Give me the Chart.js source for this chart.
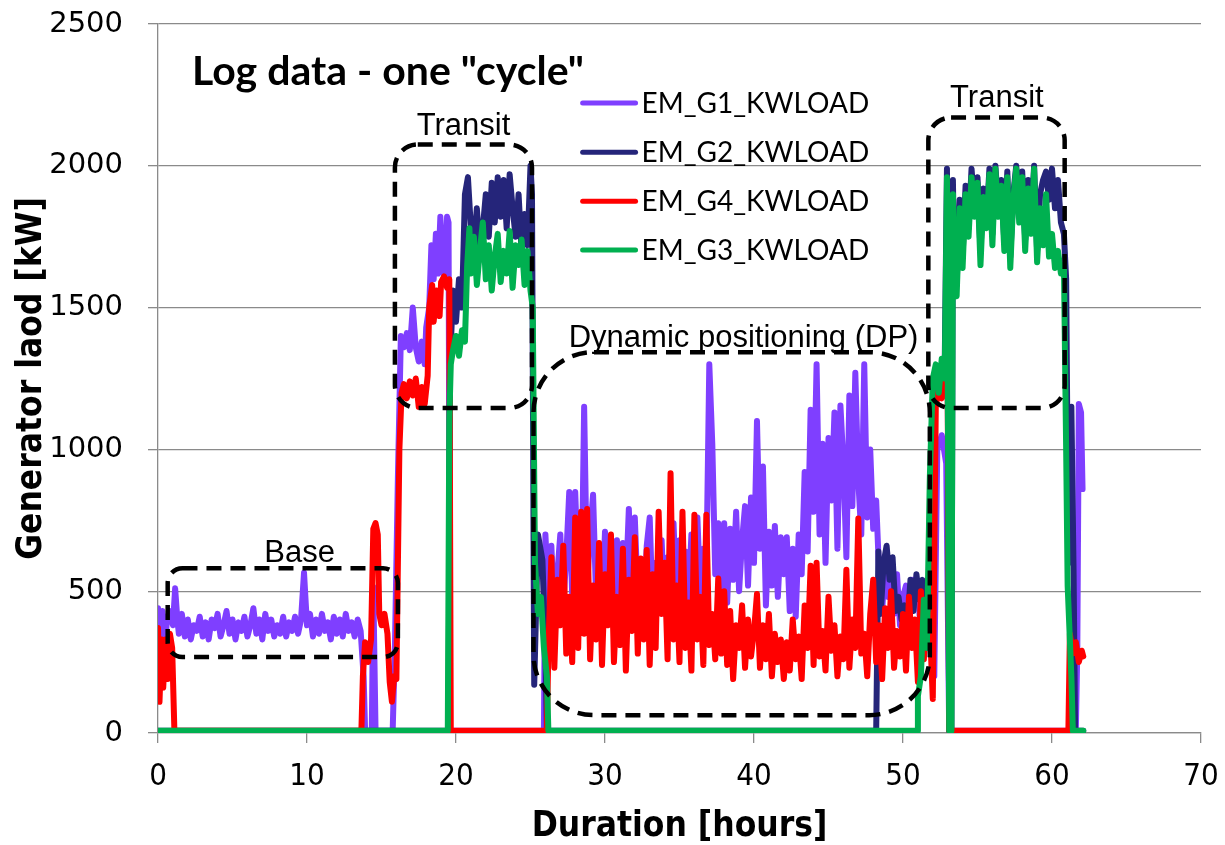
<!DOCTYPE html>
<html>
<head>
<meta charset="utf-8">
<script src="https://cdn.jsdelivr.net/npm/chart.js@4.4.0/dist/chart.umd.min.js"></script>
<style>
html, body { margin: 0; padding: 0; background: #fff; }
</style>
</head>
<body>
<canvas id="grafica" width="1225" height="845"></canvas>
<script>
const paso = 0.2; // horas entre muestras en los tramos con ruido

// EM_G1_KWLOAD
const g1Inicio = [[0,440],[0.15,310],[0.3,430],[0.45,290],[0.6,400],[0.8,430],[1.0,380],[1.15,510],[1.3,400]];
const g1BaseDesde = 1.4;
const g1Base = [
    350,420,340,400,330,380,360,410,340,390,
    330,400,370,420,340,380,430,350,400,330,
    390,360,410,340,380,440,350,400,330,420,
    360,400,340,380,350,410,340,390,360,410,
    350,400,565,380,420,340,400,350,420,360,
    390,330,410,350,400,340,420,360,390,340,
    400,360
];
const g1Subida = [[13.8,200],[13.9,8],[14.35,8],[14.45,515],[14.6,8],[15.75,8],[15.9,300],[16.1,900],
    [16.3,1400],[16.5,1360],[16.7,1410],[16.9,1350],[17.1,1500],[17.3,1360],[17.5,1310],[17.7,1380],
    [17.9,1300],[18.0,1430],[18.2,1500],[18.35,1720],[18.5,1600],[18.65,1760],[18.8,1620],[18.95,1820],
    [19.1,1650],[19.25,1600],[19.4,1820],[19.5,1800],[19.6,8],[25.9,8]];
const g1DpDesde = 26.0;
const g1Dp = [
    700,480,660,420,560,700,450,620,850,480,
    850,560,400,1150,520,700,840,480,600,430,
    710,420,580,470,680,400,670,520,790,450,
    760,480,560,420,660,760,430,600,520,680,
    420,620,560,740,450,680,520,640,470,700,
    540,760,480,650,560,1300,1020,560,740,500,
    740,460,720,540,780,500,680,800,520,830,
    600,1100,650,940,450,710,520,730,480,690,
    560,690,430,650,410,700,560,920,640,1140,
    780,1300,700,1020,600,1040,820,1130,650,1155,
    950,620,1190,800,1270,890,700,1300,760,1000,
    720,820,560,430,600,480,540,420,560,380,
    480,520,400,540,460,500,350,480
];
const g1Final = [[51.6,400],[51.8,350],[52.1,200],[52.3,1000],[52.6,1050],[52.9,950],[53.1,8],[61.6,8],
    [61.7,300],[61.8,1160],[61.95,1130],[62.05,860]];

// EM_G2_KWLOAD
const g2Inicio = [[0,8],[19.5,8],[19.6,1300],[19.8,1560],[20.0,1450],[20.2,1600],[20.4,1500],[20.6,1900],[20.8,1960],[21.0,1780]];
const g2Transito1Desde = 21.2;
const g2Transito1 = [1720,1850,1700,1780,1900,1750,1940,1800,1960,1820,1950,1780,1970,1850,1750,1900,1700,1830,1720,2000];
const g2Medio = [[25.1,1900],[25.25,170],[25.5,700],[25.8,610],[26.0,290],[26.1,8],[48.2,8],[48.35,640],[48.5,420],
    [48.7,600],[48.9,660],[49.1,540],[49.3,620],[49.5,430],[49.7,480],[49.9,400],[50.1,450],[50.3,380],[50.5,540],
    [50.7,430],[50.9,560],[51.1,470],[51.3,540],[51.5,520],[51.7,400],[51.9,700],[52.1,1150],[52.4,1250],[52.8,1300],
    [52.95,1990],[53.1,8],[53.25,8],[53.35,1950],[53.45,1600]];
const g2Transito2Desde = 53.6;
const g2Transito2 = [1580,1880,1680,1930,1780,1990,1850,1960,1700,1920,1800,1990,1760,2000,1850,1950,1730,1980,1680,
    1900,2000,1830,1980,1740,1950,1800,2000,1700,1900,1950,1980,1880,1990,1850,1950,1800,1760];
const g2Final = [[60.95,1600],[61.1,600],[61.3,1150],[61.45,560],[61.55,8],[62.1,8]];

// EM_G4_KWLOAD
const g4Inicio = [[0,370],[0.1,110],[0.25,330],[0.35,160],[0.5,330],[0.65,190],[0.8,350],[0.95,300],[1.1,8],
    [13.65,8],[13.75,200],[13.9,320],[14.1,250],[14.3,330],[14.45,720],[14.6,740],[14.75,700],[14.85,420],
    [15.0,380],[15.2,420],[15.4,350],[15.55,180],[15.7,110],[15.85,200],[16.0,190],[16.2,1000],[16.35,1200],
    [16.5,1230],[16.7,1180],[16.9,1240],[17.1,1190],[17.3,1250],[17.5,1150],[17.7,1220],[17.9,1160],[18.1,1260],
    [18.2,1500],[18.4,1580],[18.5,1450],[18.7,1560],[18.9,1470],[19.0,1590],[19.2,1610],[19.4,1570],[19.55,1600],
    [19.65,8],[26.1,8]];
const g4DpDesde = 26.2;
const g4Dp = [
    300,620,230,540,380,660,280,480,250,760,
    300,780,350,790,260,520,330,670,240,560,
    380,700,250,480,310,650,220,540,360,690,
    280,615,330,645,240,560,300,780,420,600,
    260,916,330,520,250,780,300,460,220,770,
    330,480,240,770,310,420,260,545,280,500,
    240,430,190,380,300,450,230,400,270,360,
    490,230,380,260,420,200,350,250,330,190,
    320,220,400,260,340,190,450,300,590,240,
    600,270,360,220,480,290,380,200,340,260,
    576,230,400,300,756,280,350,200,420,540,
    250,380,190,440,300,500,230,360,270,420,
    220,480,300,400,180,500,260,440
];
const g4Final = [[51.8,380],[52.0,120],[52.2,1150],[52.4,1220],[52.6,1180],[52.8,1250],[53.0,1230],[53.1,8],
    [61.1,8],[61.2,350],[61.4,280],[61.6,320],[61.8,250],[62.0,290],[62.1,270]];

// EM_G3_KWLOAD
const g3Inicio = [[0,8],[19.45,8],[19.55,1100],[19.65,1300],[19.8,1350],[20.0,1400],[20.2,1330],[20.4,1420],
    [20.6,1380],[20.75,1650],[20.9,1780]];
const g3Transito1Desde = 21.0;
const g3Transito1 = [1620,1750,1580,1700,1800,1600,1720,1560,1680,1760,1590,1700,1620,1770,1570,1720,1650,1740,1580,1700,1560];
const g3Medio = [[25.15,1500],[25.3,600],[25.5,420],[25.7,480],[25.9,300],[26.1,200],[26.2,8],[50.95,8],[51.0,130],
    [51.2,200],[51.4,470],[51.6,300],[51.8,900],[52.0,1250],[52.2,1300],[52.4,1200],[52.6,1320],[52.8,1250],
    [52.95,1960],[53.1,8],[53.25,8],[53.35,1900],[53.45,1600]];
const g3Transito2Desde = 53.6;
const g3Transito2 = [1540,1850,1640,1900,1750,1960,1820,1940,1650,1890,1780,1970,1720,1990,1820,1930,1700,1960,1640,
    1880,1990,1800,1960,1700,1920,1760,1990,1660,1850,1720,1900,1680,1760,1640,1700,1620,1650];
const g3Final = [[60.95,1000],[61.05,520],[61.3,200],[61.4,8],[62.1,8]];

const etiquetas = ['EM_G1_KWLOAD', 'EM_G2_KWLOAD', 'EM_G4_KWLOAD', 'EM_G3_KWLOAD'];
const colores = ['#7f3fff', '#25257a', '#ff0000', '#00b050'];
const ticksX = [0, 10, 20, 30, 40, 50, 60, 70];
const ticksY = [0, 500, 1000, 1500, 2000, 2500];

// recuadros discontinuos: horas y kW
const cajas = [
    { desde: 0.65, hasta: 16.1, min: 268, max: 581, texto: 'Base', tx: 9.5, ty: 634 },
    { desde: 15.9, hasta: 25.1, min: 1146, max: 2075, texto: 'Transit', tx: 20.5, ty: 2140 },
    { desde: 25.2, hasta: 51.8, min: 63, max: 1343, texto: 'Dynamic positioning (DP)', tx: 39.3, ty: 1392 },
    { desde: 51.7, hasta: 60.85, min: 1146, max: 2170, texto: 'Transit', tx: 56.3, ty: 2238 }
];

function tramo(desde, valores) {
    return valores.map((v, i) => ({ x: Math.round((desde + i * paso) * 100) / 100, y: v }));
}

function puntos(pares) {
    return pares.map(p => ({ x: p[0], y: p[1] }));
}

const series = [
    [...puntos(g1Inicio), ...tramo(g1BaseDesde, g1Base), ...puntos(g1Subida), ...tramo(g1DpDesde, g1Dp), ...puntos(g1Final)],
    [...puntos(g2Inicio), ...tramo(g2Transito1Desde, g2Transito1), ...puntos(g2Medio), ...tramo(g2Transito2Desde, g2Transito2), ...puntos(g2Final)],
    [...puntos(g4Inicio), ...tramo(g4DpDesde, g4Dp), ...puntos(g4Final)],
    [...puntos(g3Inicio), ...tramo(g3Transito1Desde, g3Transito1), ...puntos(g3Medio), ...tramo(g3Transito2Desde, g3Transito2), ...puntos(g3Final)]
];

const anotaciones = {
    id: 'anotaciones',
    afterDatasetsDraw(chart) {
        const { ctx, scales: { x, y } } = chart;
        ctx.save();
        ctx.strokeStyle = '#000';
        ctx.lineWidth = 4.5;
        ctx.setLineDash([15, 9]);
        cajas.forEach(c => {
            const izq = x.getPixelForValue(c.desde);
            const der = x.getPixelForValue(c.hasta);
            const arr = y.getPixelForValue(c.max);
            const aba = y.getPixelForValue(c.min);
            ctx.beginPath();
            ctx.roundRect(izq, arr, der - izq, aba - arr, Math.min(der - izq, aba - arr) / 6);
            ctx.stroke();
        });
        ctx.setLineDash([]);

        ctx.fillStyle = '#000';
        ctx.textAlign = 'center';
        ctx.textBaseline = 'middle';
        ctx.font = '31px "Liberation Sans", Arial, sans-serif';
        cajas.forEach(c => {
            ctx.fillText(c.texto, x.getPixelForValue(c.tx), y.getPixelForValue(c.ty));
        });

        // título dentro del gráfico
        ctx.textAlign = 'left';
        ctx.font = 'bold 41px Lato, sans-serif';
        ctx.fillText('Log data - one "cycle"', x.getPixelForValue(2.28), y.getPixelForValue(2330));

        // leyenda
        ctx.font = '28px Lato, sans-serif';
        const filas = [2221, 2048, 1875, 1703];
        chart.data.datasets.forEach((d, i) => {
            const fy = y.getPixelForValue(filas[i]);
            ctx.strokeStyle = d.borderColor;
            ctx.lineWidth = 5;
            ctx.lineCap = 'round';
            ctx.beginPath();
            ctx.moveTo(x.getPixelForValue(28.5), fy);
            ctx.lineTo(x.getPixelForValue(32.05), fy);
            ctx.stroke();
            ctx.fillText(d.label, x.getPixelForValue(32.45), fy + 1);
        });
        ctx.restore();
    }
};

const gris = '#8a8a8a';
const fuenteEstrecha = '"Liberation Sans Narrow", "DejaVu Sans Condensed", sans-serif';

new Chart(document.getElementById('grafica').getContext('2d'), {
    type: 'line',
    data: {
        datasets: series.map((s, i) => ({
            label: etiquetas[i],
            data: s,
            borderColor: colores[i],
            backgroundColor: colores[i],
            order: 3 - i
        }))
    },
    options: {
        responsive: false,
        animation: false,
        devicePixelRatio: 1,
        elements: {
            point: { radius: 0 },
            line: { borderWidth: 6, tension: 0, borderJoinStyle: 'round', borderCapStyle: 'round' }
        },
        layout: { padding: { top: 24, right: 24, left: 0, bottom: 0 } },
        scales: {
            x: {
                type: 'linear',
                min: 0,
                max: 70,
                afterBuildTicks: s => { s.ticks = ticksX.map(v => ({ value: v })); },
                afterFit: s => { s.height = 112; s.paddingLeft = 0; s.paddingRight = 0; },
                grid: { drawOnChartArea: false, color: gris, lineWidth: 1.3, tickLength: 10 },
                border: { color: gris, width: 1.3 },
                ticks: { color: '#000', padding: 15, callback: v => String(v), font: { family: fuenteEstrecha, size: 31 } },
                title: {
                    display: true,
                    text: 'Duration [hours]',
                    color: '#000',
                    padding: { top: 0, bottom: 1 },
                    font: { family: fuenteEstrecha, size: 35, weight: 'bold', lineHeight: 1 }
                }
            },
            y: {
                min: 0,
                max: 2500,
                afterBuildTicks: s => { s.ticks = ticksY.map(v => ({ value: v })); },
                afterFit: s => { s.width = 158; s.paddingTop = 0; s.paddingBottom = 0; },
                grid: { color: gris, lineWidth: 1.3, tickLength: 10 },
                border: { color: gris, width: 1.3 },
                ticks: { color: '#000', padding: 25, callback: v => String(v), font: { family: '"DejaVu Sans", Verdana, sans-serif', size: 29 } },
                title: {
                    display: true,
                    text: 'Generator laod [kW]',
                    color: '#000',
                    padding: { top: 14, bottom: 0 },
                    font: { family: fuenteEstrecha, size: 35, weight: 'bold', lineHeight: 1 }
                }
            }
        },
        plugins: {
            legend: { display: false },
            tooltip: { enabled: false }
        }
    },
    plugins: [anotaciones]
});
</script>
</body>
</html>
